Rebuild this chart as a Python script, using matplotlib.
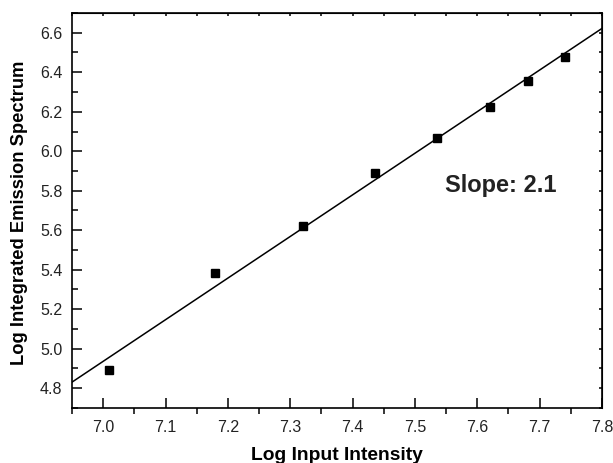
import matplotlib
matplotlib.use("Agg")
import matplotlib.pyplot as plt
from matplotlib.ticker import MultipleLocator

plt.rcParams['font.family'] = ['Liberation Sans', 'DejaVu Sans']

# Data
log_input = [7.01, 7.18, 7.32, 7.436, 7.535, 7.62, 7.681, 7.741]
log_emission = [4.89, 5.383, 5.622, 5.888, 6.066, 6.224, 6.356, 6.478]
fit_x = [6.95, 7.80]
fit_y = [4.831, 6.622]
slope_text = "Slope: 2.1"
x_label = "Log Input Intensity"
y_label = "Log Integrated Emission Spectrum"

fig = plt.figure(figsize=(6.13, 4.63), dpi=100)
ax = fig.add_axes([72/613, 1 - 408/463, (602-72)/613, (408-13)/463])

ax.plot(fit_x, fit_y, color='black', lw=1.1)
ax.plot(log_input, log_emission, 's', color='black', ms=6)

ax.set_xlim(6.95, 7.8)
ax.set_ylim(4.7, 6.7)
ax.xaxis.set_major_locator(MultipleLocator(0.1))
ax.xaxis.set_minor_locator(MultipleLocator(0.05))
ax.yaxis.set_major_locator(MultipleLocator(0.2))
ax.yaxis.set_minor_locator(MultipleLocator(0.1))

for s in ax.spines.values():
    s.set_linewidth(1.2)

ax.tick_params(axis='x', which='major', direction='in', length=7, width=1.1,
               labelsize=11.5, pad=9)
ax.tick_params(axis='x', which='minor', direction='out', length=4, width=1.1)
ax.tick_params(axis='y', which='major', direction='in', length=7, width=1.1,
               labelsize=11.5, pad=7)
ax.tick_params(axis='y', which='minor', direction='in', length=4, width=1.1)
for lbl in ax.get_xticklabels() + ax.get_yticklabels():
    lbl.set_color('#222222')

secx = ax.secondary_xaxis('top')
secx.xaxis.set_major_locator(MultipleLocator(0.05))
secx.tick_params(direction='in', length=2, width=1.1, labeltop=False)
secy = ax.secondary_yaxis('right')
secy.yaxis.set_major_locator(MultipleLocator(0.1))
secy.tick_params(direction='in', length=2, width=1.1, labelright=False)

ax.set_xlabel(x_label, fontsize=13.9, fontweight='bold', va='baseline')
ax.xaxis.set_label_coords(0.5, -52/395)
ax.set_ylabel(y_label, fontsize=13.2, fontweight='bold', va='center')
ax.yaxis.set_label_coords(-52/530, 0.4954)

ax.text(7.637, 5.826, slope_text, fontsize=17, fontweight='bold', ha='center', va='center',
        color='#222222')

fig.savefig('out.png', dpi=100)
